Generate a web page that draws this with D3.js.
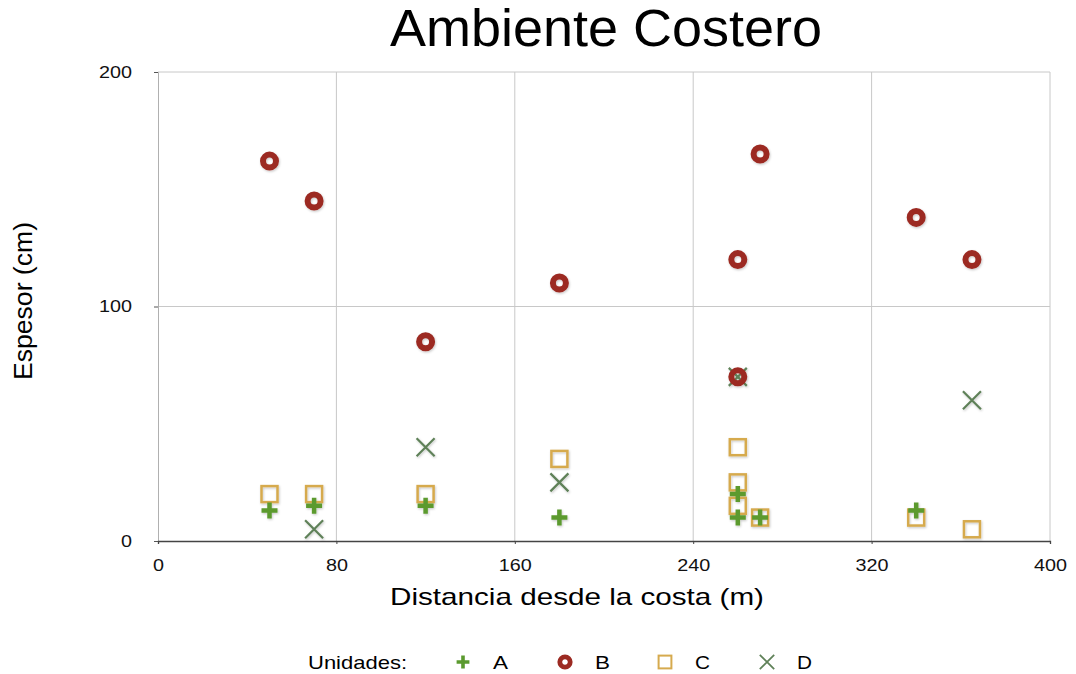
<!DOCTYPE html>
<html>
<head>
<meta charset="utf-8">
<script src="https://cdn.jsdelivr.net/npm/d3@7"></script>
<style>
  html, body { margin: 0; padding: 0; background: #fff; }
  svg { display: block; font-family: "Liberation Sans", Arial, sans-serif; }
</style>
</head>
<body>
<svg id="chart" width="1076" height="674"></svg>
<script>
// Unit thickness measured at distances from the shoreline
const seriesNames = ["A", "B", "C", "D"];
const distA = [50, 70, 120, 180, 260, 260, 270, 340];
const thickA = [13, 15, 15, 10, 20, 10, 10, 13];
const distB = [50, 70, 120, 180, 260, 260, 270, 340, 365];
const thickB = [162, 145, 85, 110, 120, 70, 165, 138, 120];
const distC = [50, 70, 120, 180, 260, 260, 260, 270, 340, 365];
const thickC = [20, 20, 20, 35, 40, 25, 15, 10, 10, 5];
const distD = [70, 120, 180, 260, 365];
const thickD = [5, 40, 25, 70, 60];
const xTicks = [0, 80, 160, 240, 320, 400];
const yTicks = [0, 100, 200];

const colors = { A: "#5b9a2f", B: "#9c2a22", C: "#d6aa4e", D: "#5f8158" };

const svg = d3.select("#chart");
const x = d3.scaleLinear().domain([0, 400]).range([158, 1050]);
const y = d3.scaleLinear().domain([0, 200]).range([541, 72]);

// soft shadow under markers
const defs = svg.append("defs");
const f = defs.append("filter").attr("id", "shadow").attr("x", "-50%").attr("y", "-50%").attr("width", "200%").attr("height", "200%");
f.append("feDropShadow").attr("dx", 0.8).attr("dy", 1.2).attr("stdDeviation", 1).attr("flood-color", "#000").attr("flood-opacity", 0.22);

// grid
svg.append("g").selectAll("line").data(xTicks.filter(d => d > 0)).join("line")
  .attr("x1", d => x(d)).attr("x2", d => x(d)).attr("y1", y(200)).attr("y2", y(0))
  .attr("stroke", "#c8c8c8").attr("stroke-width", 1);
svg.append("g").selectAll("line").data(yTicks.filter(d => d > 0)).join("line")
  .attr("x1", x(0)).attr("x2", x(400)).attr("y1", d => y(d)).attr("y2", d => y(d))
  .attr("stroke", "#c8c8c8").attr("stroke-width", 1);

// wide-set text: glyphs stretched horizontally to a given width per character
function fitText(sel, perChar) {
  sel.each(function () {
    const t = d3.select(this);
    t.attr("textLength", t.text().length * perChar).attr("lengthAdjust", "spacingAndGlyphs");
  });
}

// axes
const yAxis = svg.append("g").attr("transform", `translate(${x(0)},0)`)
  .call(d3.axisLeft(y).tickValues(yTicks).tickSize(4).tickPadding(22));
yAxis.select(".domain").attr("stroke", "#b0b0b0");
yAxis.selectAll(".tick line").attr("stroke", "#555");
yAxis.selectAll("text").attr("font-size", 17).attr("fill", "#111").attr("font-family", "Liberation Sans, Arial, sans-serif")
  .call(fitText, 11);

const xAxis = svg.append("g").attr("transform", `translate(0,${y(0)})`)
  .call(d3.axisBottom(x).tickValues(xTicks).tickSize(3).tickPadding(15));
xAxis.select(".domain").attr("stroke", "#444").attr("stroke-width", 1.3);
xAxis.selectAll(".tick line").attr("stroke", "#444");
xAxis.selectAll("text").attr("font-size", 17).attr("fill", "#111").attr("font-family", "Liberation Sans, Arial, sans-serif")
  .call(fitText, 11);

// titles
svg.append("text").attr("x", 606).attr("y", 46).attr("text-anchor", "middle")
  .attr("font-size", 51).attr("fill", "#000")
  .attr("textLength", 432).attr("lengthAdjust", "spacingAndGlyphs").text("Ambiente Costero");
svg.append("text").attr("x", 577).attr("y", 605).attr("text-anchor", "middle")
  .attr("font-size", 24).attr("fill", "#000")
  .attr("textLength", 374).attr("lengthAdjust", "spacingAndGlyphs").text("Distancia desde la costa (m)");
svg.append("text").attr("transform", `translate(32,301) rotate(-90)`).attr("text-anchor", "middle")
  .attr("font-size", 25).attr("fill", "#000")
  .attr("textLength", 158).attr("lengthAdjust", "spacingAndGlyphs").text("Espesor  (cm)");

// marker drawing
function drawMarker(g, name, s) {
  if (name === "A") {
    g.append("path").attr("d", `M${-8*s},0H${8*s}M0,${-8*s}V${8*s}`)
      .attr("stroke", colors.A).attr("stroke-width", 4.5*s).attr("fill", "none");
  } else if (name === "B") {
    g.append("circle").attr("r", 6.5*s).attr("fill", "none")
      .attr("stroke", colors.B).attr("stroke-width", 6*s);
  } else if (name === "C") {
    g.append("rect").attr("x", -8*s).attr("y", -8*s).attr("width", 16*s).attr("height", 16*s)
      .attr("fill", "none").attr("stroke", colors.C).attr("stroke-width", 2.5*s);
  } else {
    g.append("path").attr("d", `M${-9*s},${-9*s}L${9*s},${9*s}M${9*s},${-9*s}L${-9*s},${9*s}`)
      .attr("stroke", colors.D).attr("stroke-width", 2.2*s).attr("fill", "none");
  }
}

const series = [
  { name: "A", xs: distA, ys: thickA },
  { name: "B", xs: distB, ys: thickB },
  { name: "C", xs: distC, ys: thickC },
  { name: "D", xs: distD, ys: thickD }
];
// layering: squares at the back, rings on top
const order = ["C", "A", "D", "B"];
const plot = svg.append("g").attr("filter", "url(#shadow)");
order.forEach(n => {
  const s = series.find(d => d.name === n);
  s.xs.forEach((dx, i) => {
    const g = plot.append("g").attr("transform", `translate(${x(dx)},${y(s.ys[i])})`);
    drawMarker(g, n, 1);
  });
});

// legend
const leg = svg.append("g").attr("transform", "translate(0,662)");
leg.append("text").attr("x", 308).attr("y", 7).attr("font-size", 19).attr("fill", "#000")
  .attr("textLength", 99).attr("lengthAdjust", "spacingAndGlyphs").text("Unidades:");
const legX = [463, 565, 665, 767];
seriesNames.forEach((n, i) => {
  const g = leg.append("g").attr("transform", `translate(${legX[i]},0)`);
  drawMarker(g, n, 0.8);
  leg.append("text").attr("x", legX[i] + 30).attr("y", 7).attr("font-size", 19).attr("fill", "#000")
    .attr("textLength", 15).attr("lengthAdjust", "spacingAndGlyphs").text(n);
});
</script>
</body>
</html>
